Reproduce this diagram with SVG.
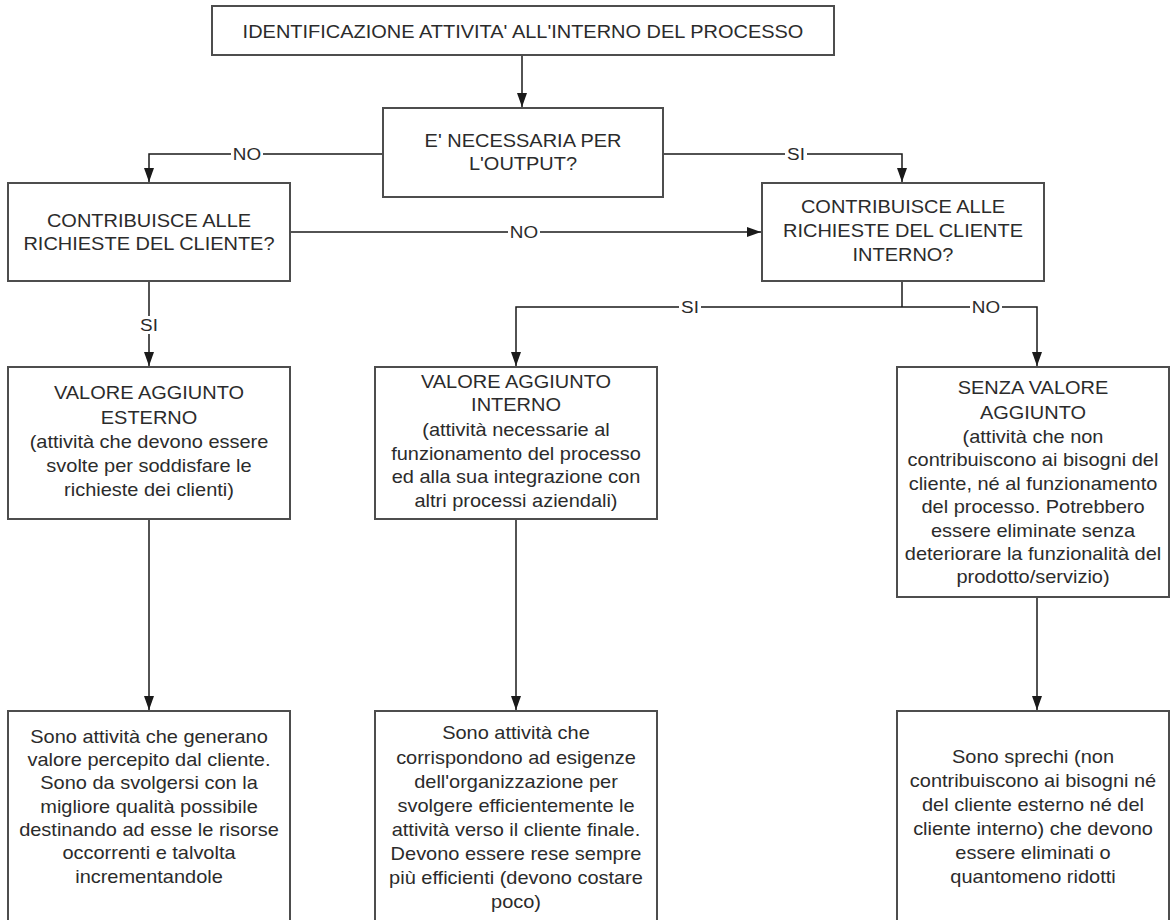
<svg xmlns="http://www.w3.org/2000/svg" width="1171" height="920" viewBox="0 0 1171 920">
  <style>
    .box { fill: #ffffff; stroke: #4d4d4d; stroke-width: 2; }
    .t text { font-family: "Liberation Sans", Arial, sans-serif; font-size: 18px; fill: #2b2b2b; text-anchor: middle; }
    .wire { fill: none; stroke: #1a1a1a; stroke-width: 1.5; }
    .lbl-bg { fill: #ffffff; }
    .lbl { font-family: "Liberation Sans", Arial, sans-serif; font-size: 17px; fill: #2b2b2b; text-anchor: middle; }
  </style>
  <defs>
    <marker id="arrow" markerUnits="userSpaceOnUse" markerWidth="14" markerHeight="10" refX="14" refY="5" orient="auto">
      <path d="M0,0 L14,5 L0,10 z" fill="#1a1a1a"/>
    </marker>
  </defs>
  <rect width="1171" height="920" fill="#ffffff"/>

  <!-- connectors -->
  <g id="connectors">
    <path class="wire" d="M522,55 V107" marker-end="url(#arrow)"/>
    <path class="wire" d="M383,154 H149 V182" marker-end="url(#arrow)"/>
    <path class="wire" d="M663,154 H902 V182" marker-end="url(#arrow)"/>
    <path class="wire" d="M290,232 H761" marker-end="url(#arrow)"/>
    <path class="wire" d="M149,281 V366" marker-end="url(#arrow)"/>
    <path class="wire" d="M902,281 V307"/>
    <path class="wire" d="M902,307 H516 V366" marker-end="url(#arrow)"/>
    <path class="wire" d="M902,307 H1037 V366" marker-end="url(#arrow)"/>
    <path class="wire" d="M149,519 V710" marker-end="url(#arrow)"/>
    <path class="wire" d="M516,519 V710" marker-end="url(#arrow)"/>
    <path class="wire" d="M1037,597 V710" marker-end="url(#arrow)"/>

    <!-- branch labels -->
    <g id="labels">
      <rect class="lbl-bg" x="231" y="145" width="32" height="18"/>
      <text class="lbl" x="247" y="160" transform="translate(247 0) scale(1.11 1) translate(-247 0)">NO</text>
      <rect class="lbl-bg" x="785" y="145" width="22" height="18"/>
      <text class="lbl" x="796" y="160" transform="translate(796 0) scale(1.11 1) translate(-796 0)">SI</text>
      <rect class="lbl-bg" x="508" y="223" width="32" height="18"/>
      <text class="lbl" x="524" y="238" transform="translate(524 0) scale(1.11 1) translate(-524 0)">NO</text>
      <rect class="lbl-bg" x="138" y="316" width="22" height="18"/>
      <text class="lbl" x="149" y="331" transform="translate(149 0) scale(1.11 1) translate(-149 0)">SI</text>
      <rect class="lbl-bg" x="679" y="298" width="22" height="18"/>
      <text class="lbl" x="690" y="313" transform="translate(690 0) scale(1.11 1) translate(-690 0)">SI</text>
      <rect class="lbl-bg" x="970" y="298" width="32" height="18"/>
      <text class="lbl" x="986" y="313" transform="translate(986 0) scale(1.11 1) translate(-986 0)">NO</text>
    </g>
  </g>

  <!-- nodes -->
  <g id="start">
    <rect class="box" x="212" y="6" width="622" height="49"/>
    <g class="t" transform="translate(523 0) scale(1.11 1)">
      <text y="38.5">IDENTIFICAZIONE ATTIVITA' ALL'INTERNO DEL PROCESSO</text>
    </g>
  </g>

  <g id="q-necessaria">
    <rect class="box" x="383" y="108" width="280" height="89"/>
    <g class="t" transform="translate(523 0) scale(1.11 1)">
      <text y="147">E' NECESSARIA PER</text>
      <text y="170">L'OUTPUT?</text>
    </g>
  </g>

  <g id="q-cliente">
    <rect class="box" x="8" y="183" width="282" height="98"/>
    <g class="t" transform="translate(149 0) scale(1.11 1)">
      <text y="227">CONTRIBUISCE ALLE</text>
      <text y="250">RICHIESTE DEL CLIENTE?</text>
    </g>
  </g>

  <g id="q-cliente-interno">
    <rect class="box" x="762" y="183" width="282" height="98"/>
    <g class="t" transform="translate(903 0) scale(1.11 1)">
      <text y="213.5">CONTRIBUISCE ALLE</text>
      <text y="237.5">RICHIESTE DEL CLIENTE</text>
      <text y="261.5">INTERNO?</text>
    </g>
  </g>

  <g id="va-esterno">
    <rect class="box" x="8" y="367" width="282" height="152"/>
    <g class="t" transform="translate(149 0) scale(1.11 1)">
      <text y="399.5">VALORE AGGIUNTO</text>
      <text y="424">ESTERNO</text>
      <text y="448.5">(attività che devono essere</text>
      <text y="472.5">svolte per soddisfare le</text>
      <text y="496.5">richieste dei clienti)</text>
    </g>
  </g>

  <g id="va-interno">
    <rect class="box" x="375" y="367" width="282" height="152"/>
    <g class="t" transform="translate(516 0) scale(1.11 1)">
      <text y="388.5">VALORE AGGIUNTO</text>
      <text y="411.5">INTERNO</text>
      <text y="436.5">(attività necessarie al</text>
      <text y="460.5">funzionamento del processo</text>
      <text y="483.5">ed alla sua integrazione con</text>
      <text y="507.5">altri processi aziendali)</text>
    </g>
  </g>

  <g id="senza-valore">
    <rect class="box" x="897" y="367" width="272" height="230"/>
    <g class="t" transform="translate(1033 0) scale(1.11 1)">
      <text y="394.5">SENZA VALORE</text>
      <text y="419.5">AGGIUNTO</text>
      <text y="443.5">(attività che non</text>
      <text y="466.5">contribuiscono ai bisogni del</text>
      <text y="490.5">cliente, né al funzionamento</text>
      <text y="513.5">del processo. Potrebbero</text>
      <text y="537.5">essere eliminate senza</text>
      <text y="560.5">deteriorare la funzionalità del</text>
      <text y="583.5">prodotto/servizio)</text>
    </g>
  </g>

  <g id="desc-esterno">
    <rect class="box" x="8" y="711" width="282" height="220"/>
    <g class="t" transform="translate(149 0) scale(1.11 1)">
      <text y="743.5">Sono attività che generano</text>
      <text y="766.5">valore percepito dal cliente.</text>
      <text y="789.5">Sono da svolgersi con la</text>
      <text y="813.5">migliore qualità possibile</text>
      <text y="836.5">destinando ad esse le risorse</text>
      <text y="859.5">occorrenti e talvolta</text>
      <text y="883.5">incrementandole</text>
    </g>
  </g>

  <g id="desc-interno">
    <rect class="box" x="375" y="711" width="282" height="220"/>
    <g class="t" transform="translate(516 0) scale(1.11 1)">
      <text y="739.5">Sono attività che</text>
      <text y="764.5">corrispondono ad esigenze</text>
      <text y="788.5">dell'organizzazione per</text>
      <text y="812.5">svolgere efficientemente le</text>
      <text y="836.5">attività verso il cliente finale.</text>
      <text y="860.5">Devono essere rese sempre</text>
      <text y="884.5">più efficienti (devono costare</text>
      <text y="908.5">poco)</text>
    </g>
  </g>

  <g id="desc-sprechi">
    <rect class="box" x="897" y="711" width="272" height="220"/>
    <g class="t" transform="translate(1033 0) scale(1.11 1)">
      <text y="763.5">Sono sprechi (non</text>
      <text y="787.5">contribuiscono ai bisogni né</text>
      <text y="811.5">del cliente esterno né del</text>
      <text y="835.5">cliente interno) che devono</text>
      <text y="859.5">essere eliminati o</text>
      <text y="883.5">quantomeno ridotti</text>
    </g>
  </g>
</svg>
